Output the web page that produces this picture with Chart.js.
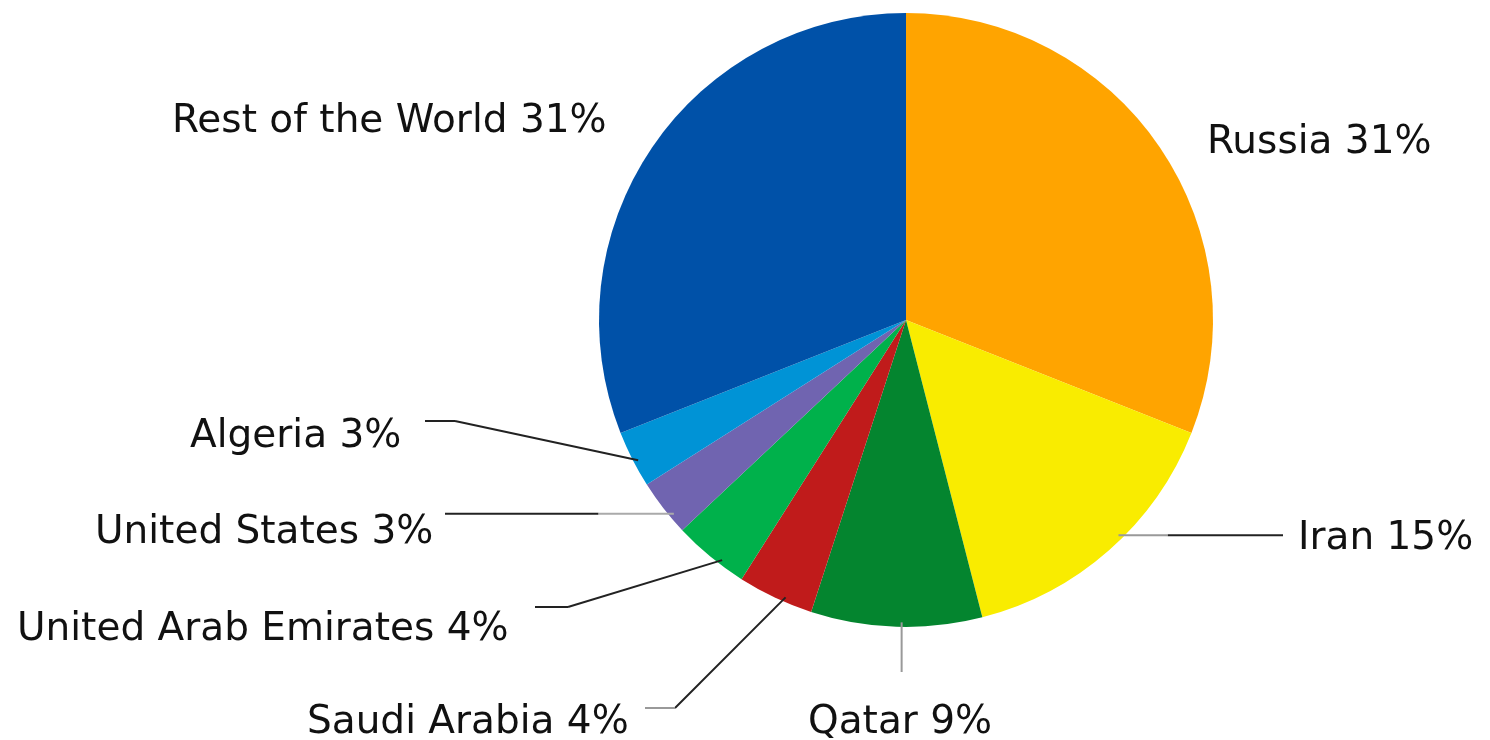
<!DOCTYPE html>
<html>
<head>
<meta charset="utf-8">
<script src="https://cdn.jsdelivr.net/npm/chart.js@4/dist/chart.umd.min.js"></script>
<style>
  html, body { margin: 0; padding: 0; background: #fff; }
  canvas { display: block; }
</style>
</head>
<body>
<canvas id="gas-chart" width="1490" height="740"></canvas>
<script>
// share of world gas reserves, clockwise from 12 o'clock
const countries = ['Russia', 'Iran', 'Qatar', 'Saudi Arabia', 'United Arab Emirates', 'United States', 'Algeria', 'Rest of the World']
const shares = [31, 15, 9, 4, 4, 3, 3, 31]
const slice_colors = ['#ffa400', '#f9ec00', '#04852f', '#c01b1b', '#00b14b', '#7064b0', '#0093d6', '#0051a8']

// where each label goes (text baseline left) and how its leader line runs
// t = fraction along the slice's angle, path = points after the anchor ('h'/'v' keep the anchor's y/x)
const label_layout = [
  { text: [1207, 153] },
  { text: [1298, 549], t: 0.44, path: [{ x: 1283, keep: 'y' }], colors: ['#999', '#222'], split: 0.3 },
  { text: [808, 733], t: 0.47, path: [{ y: 672, keep: 'x' }], colors: ['#999'] },
  { text: [307, 733], t: 0.38, path: [{ x: 675, y: 708 }, { x: 645, y: 708 }], colors: ['#222', '#999'] },
  { text: [17, 640], t: 0.35, path: [{ x: 568, y: 607 }, { x: 535, y: 607 }], colors: ['#222', '#222'] },
  { text: [95, 543], t: 0.31, path: [{ x: 445, keep: 'y' }], colors: ['#aaa', '#222'], split: 0.33 },
  { text: [190, 447], t: 0.44, path: [{ x: 455, y: 421 }, { x: 425, y: 421 }], colors: ['#222', '#222'] },
  { text: [172, 132] }
]

const label_plugin = {
  id: 'pieLabels',
  afterDraw(chart) {
    const ctx = chart.ctx
    const arcs = chart.getDatasetMeta(0).data
    ctx.save()
    ctx.lineWidth = 2
    arcs.forEach(function(arc, i) {
      const lay = label_layout[i]
      if (lay.path) {
        const ang = arc.startAngle + lay.t * (arc.endAngle - arc.startAngle)
        const r = arc.outerRadius * 0.985
        const a = { x: arc.x + Math.cos(ang) * r, y: arc.y + Math.sin(ang) * r }
        let pts = [a]
        lay.path.forEach(function(p) {
          if (p.keep === 'y') pts.push({ x: p.x, y: a.y })
          else if (p.keep === 'x') pts.push({ x: a.x, y: p.y })
          else pts.push(p)
        })
        if (lay.split) {
          // one straight line, two tones
          const b = pts[1]
          const m = { x: a.x + (b.x - a.x) * lay.split, y: a.y + (b.y - a.y) * lay.split }
          pts = [a, m, b]
        }
        for (let k = 0; k < pts.length - 1; k++) {
          ctx.strokeStyle = lay.colors[Math.min(k, lay.colors.length - 1)]
          ctx.beginPath()
          ctx.moveTo(pts[k].x, pts[k].y)
          ctx.lineTo(pts[k + 1].x, pts[k + 1].y)
          ctx.stroke()
        }
      }
      ctx.fillStyle = '#111'
      ctx.font = '39px "DejaVu Sans"'
      ctx.textAlign = 'left'
      ctx.textBaseline = 'alphabetic'
      ctx.fillText(countries[i] + ' ' + shares[i] + '%', lay.text[0], lay.text[1])
    })
    ctx.restore()
  }
}

new Chart(document.getElementById('gas-chart').getContext('2d'), {
  type: 'pie',
  data: {
    labels: countries,
    datasets: [{
      data: shares,
      backgroundColor: slice_colors,
      borderWidth: 0
    }]
  },
  options: {
    responsive: false,
    animation: false,
    layout: { padding: { left: 322, right: 0, top: 13, bottom: 113 } },
    plugins: {
      legend: { display: false },
      tooltip: { enabled: false }
    }
  },
  plugins: [label_plugin]
})
</script>
</body>
</html>
